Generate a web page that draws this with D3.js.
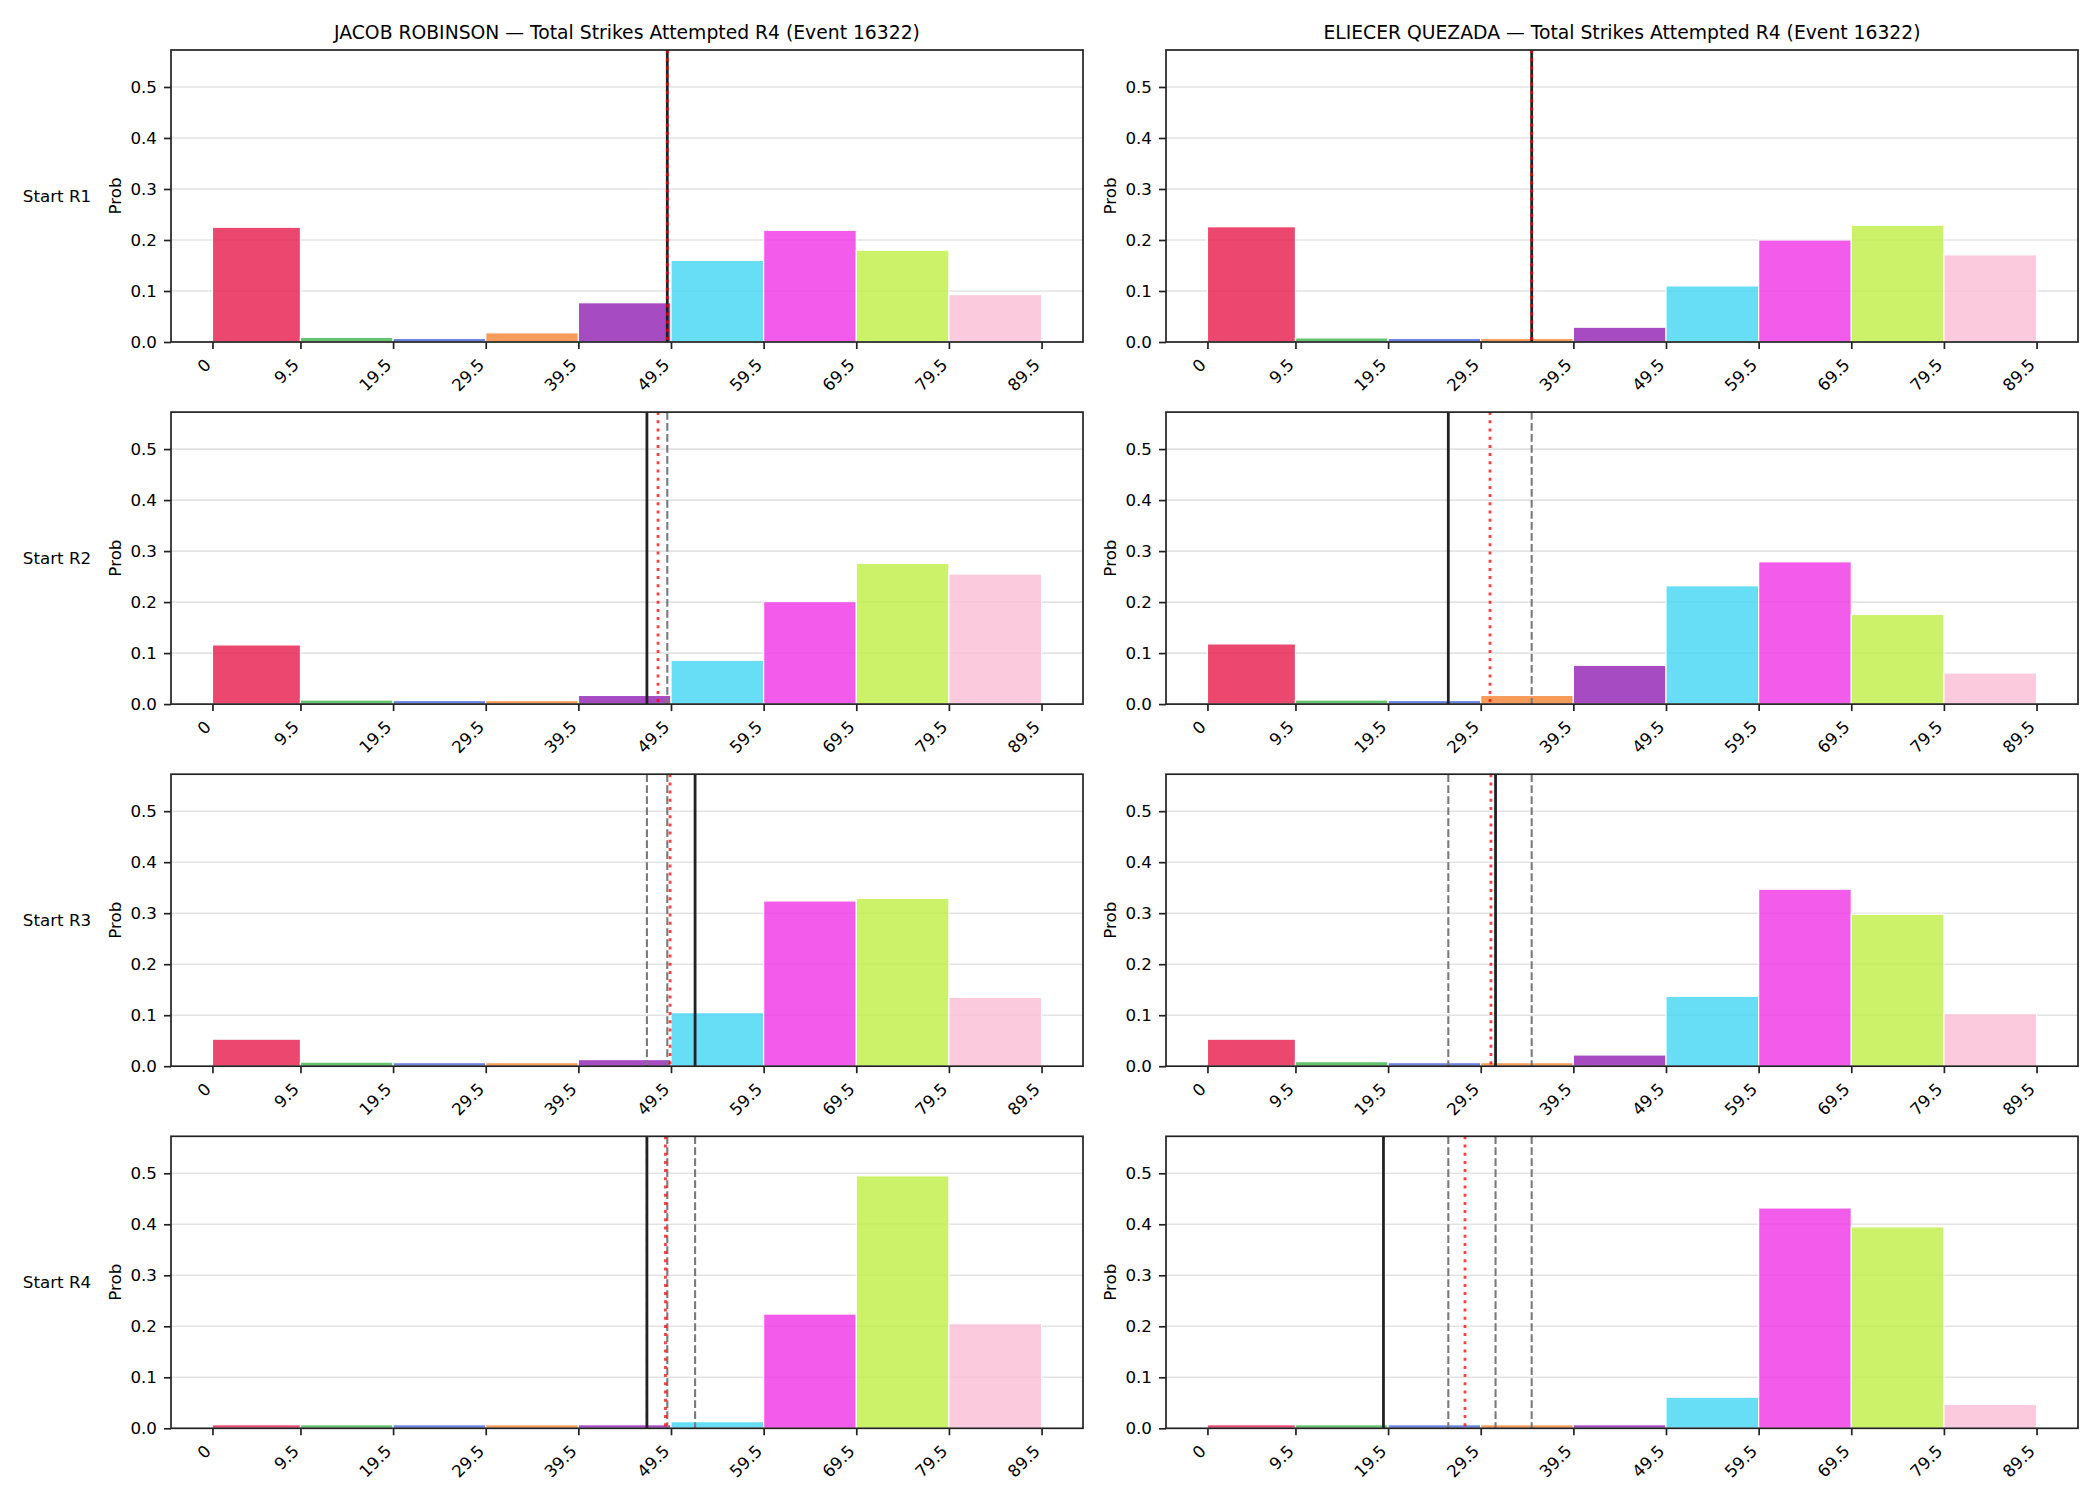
<!DOCTYPE html>
<html><head><meta charset="utf-8">
<script src="https://cdn.jsdelivr.net/npm/d3@7"></script>
<style>
body{margin:0;background:#fff}
svg{display:block}
text{font-family:"DejaVu Sans",sans-serif;fill:#000}
</style>
</head><body>
<svg id="chart" width="2100" height="1500"></svg>
<script>
// ---------- data ----------
const binEdges = [0, 9.5, 19.5, 29.5, 39.5, 49.5, 59.5, 69.5, 79.5, 89.5];
const tickLabels = ["0", "9.5", "19.5", "29.5", "39.5", "49.5", "59.5", "69.5", "79.5", "89.5"];
const binColors = ["#e6194b", "#3cb44b", "#4363d8", "#f58231", "#911eb4", "#42d4f4", "#f032e6", "#bfef45", "#fabed4"];
const rowLabels = ["Start R1", "Start R2", "Start R3", "Start R4"];
const fighters = ["JACOB ROBINSON", "ELIECER QUEZADA"];
const titleSuffix = " \u2014 Total Strikes Attempted R4 (Event 16322)";
const yTicks = [0, 0.1, 0.2, 0.3, 0.4, 0.5];

const robinsonProbs = [
  [0.225, 0.009, 0.007, 0.018, 0.077, 0.160, 0.219, 0.180, 0.093],
  [0.116, 0.008, 0.007, 0.007, 0.017, 0.086, 0.201, 0.276, 0.255],
  [0.053, 0.008, 0.007, 0.007, 0.013, 0.105, 0.324, 0.329, 0.135],
  [0.007, 0.007, 0.007, 0.007, 0.007, 0.013, 0.224, 0.495, 0.205]
];
const quezadaProbs = [
  [0.226, 0.008, 0.007, 0.007, 0.029, 0.110, 0.200, 0.229, 0.171],
  [0.118, 0.008, 0.007, 0.017, 0.076, 0.232, 0.279, 0.176, 0.061],
  [0.053, 0.009, 0.007, 0.007, 0.022, 0.137, 0.347, 0.298, 0.103],
  [0.007, 0.007, 0.007, 0.007, 0.007, 0.061, 0.432, 0.395, 0.047]
];
// solid black line per starting round, red dotted line per starting round
const robinsonLine = [49.1, 46.9, 52.1, 46.9];
const robinsonMean = [49.1, 48.1, 49.4, 48.9];
const quezadaLine = [35.0, 26.0, 31.1, 19.0];
const quezadaMean = [35.0, 30.5, 30.6, 27.8];

const probsByFighter = [robinsonProbs, quezadaProbs];
const lineByFighter = [robinsonLine, quezadaLine];
const meanByFighter = [robinsonMean, quezadaMean];

// ---------- layout ----------
const colX = [171, 1166];
const axW = 912, axH = 292;
const rowTop0 = 50, rowPitch = 362.1;

const svg = d3.select("#chart");
const x = d3.scaleLinear().domain([-4.475, 93.975]).range([0, axW]);
const y = d3.scaleLinear().domain([0, 0.5725]).range([axH, 0]);

fighters.forEach((name, c) => {
  rowLabels.forEach((rl, r) => {
    const g = svg.append("g").attr("transform", `translate(${colX[c]},${rowTop0 + r * rowPitch})`);
    const clipId = `clip-${c}-${r}`;
    g.append("clipPath").attr("id", clipId).append("rect").attr("width", axW).attr("height", axH);

    // grid
    g.append("g").selectAll("line").data(yTicks.slice(1)).join("line")
      .attr("x1", 0).attr("x2", axW)
      .attr("y1", d => y(d)).attr("y2", d => y(d))
      .attr("stroke", "#e3e3e3").attr("stroke-width", 1.6);

    // bars
    const probs = probsByFighter[c][r];
    g.append("g").selectAll("rect").data(probs).join("rect")
      .attr("x", (d, i) => x(binEdges[i]))
      .attr("width", (d, i) => x(binEdges[i + 1]) - x(binEdges[i]))
      .attr("y", d => y(d))
      .attr("height", d => y(0) - y(d))
      .attr("fill", (d, i) => binColors[i])
      .attr("fill-opacity", 0.8)
      .attr("stroke", "#fff").attr("stroke-width", 1.2);

    const lg = g.append("g").attr("clip-path", `url(#${clipId})`);
    // previous rounds' lines (grey dashed)
    const prev = lineByFighter[c].slice(0, r);
    lg.selectAll("line.prev").data(prev).join("line").attr("class", "prev")
      .attr("x1", d => x(d)).attr("x2", d => x(d)).attr("y1", 0).attr("y2", axH)
      .attr("stroke", "#7a7a7a").attr("stroke-width", 2.1)
      .attr("stroke-dasharray", "7.7,3.3");
    // current line (black solid)
    lg.append("line")
      .attr("x1", x(lineByFighter[c][r])).attr("x2", x(lineByFighter[c][r]))
      .attr("y1", 0).attr("y2", axH)
      .attr("stroke", "#222").attr("stroke-width", 2.8);
    // mean (red dotted)
    lg.append("line")
      .attr("x1", x(meanByFighter[c][r])).attr("x2", x(meanByFighter[c][r]))
      .attr("y1", 0).attr("y2", axH)
      .attr("stroke", "red").attr("stroke-opacity", 0.75).attr("stroke-width", 2.8)
      .attr("stroke-dasharray", "3,5.2");

    // axes
    const xa = g.append("g").attr("transform", `translate(0,${axH})`)
      .call(d3.axisBottom(x).tickValues(binEdges).tickFormat((d, i) => tickLabels[i]).tickSize(7).tickSizeOuter(0));
    xa.select(".domain").remove();
    xa.selectAll(".tick line").attr("stroke", "#222").attr("stroke-width", 1.7);
    xa.selectAll(".tick text")
      .attr("x", 0).attr("y", 0).attr("dy", 0)
      .attr("text-anchor", "end")
      .attr("transform", "translate(-1,24) rotate(-45)")
      .style("font-size", "16.7px").style("font-family", "DejaVu Sans").attr("fill", "#000");

    const ya = g.append("g")
      .call(d3.axisLeft(y).tickValues(yTicks).tickFormat(d3.format(".1f")).tickSize(7).tickPadding(7).tickSizeOuter(0));
    ya.select(".domain").remove();
    ya.selectAll(".tick line").attr("stroke", "#222").attr("stroke-width", 1.7);
    ya.selectAll(".tick text").style("font-size", "16.7px").style("font-family", "DejaVu Sans").attr("fill", "#000");

    // spines
    g.append("rect").attr("width", axW).attr("height", axH)
      .attr("fill", "none").attr("stroke", "#222").attr("stroke-width", 1.7);

    // y label
    g.append("text").attr("transform", `translate(-50,${axH / 2}) rotate(-90)`)
      .attr("text-anchor", "middle").style("font-size", "16.7px").text("Prob");

    if (c === 0) {
      g.append("text").attr("x", 57 - colX[0]).attr("y", axH / 2)
        .attr("text-anchor", "middle").attr("dominant-baseline", "central")
        .style("font-size", "16.7px").text(rl);
    }
    if (r === 0) {
      g.append("text").attr("x", axW / 2).attr("y", -11)
        .attr("text-anchor", "middle").style("font-size", "18.75px").text(name + titleSuffix);
    }
  });
});
</script>
</body></html>
